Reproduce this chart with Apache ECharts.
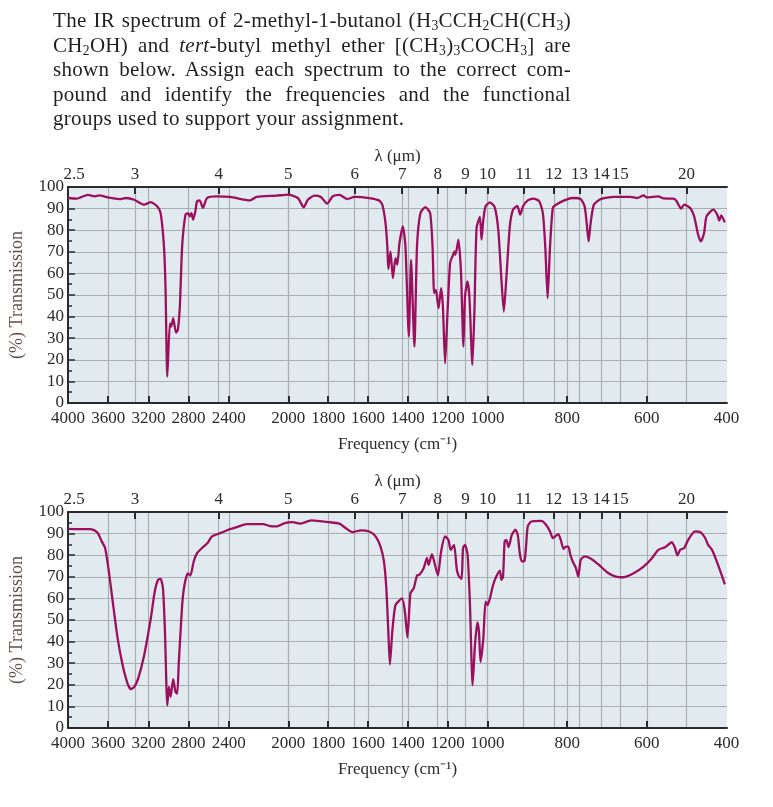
<!DOCTYPE html>
<html lang="en">
<head>
  <meta charset="UTF-8">
  <title>IR spectra</title>
  <script src="https://cdn.jsdelivr.net/npm/echarts@6.0.0/dist/echarts.min.js"></script>
  <style>
    body { margin: 0; background: #fff; }
    #para {
      position: absolute; left: 53px; top: 8px; width: 518px; z-index: 2;
      font-family: 'Liberation Serif', serif; font-size: 21px; letter-spacing: 0.3px;
      line-height: 24.5px; color: #231f20;
    }
    #para .ln { text-align: justify; text-align-last: justify; white-space: nowrap; }
    #para .ln.last { text-align-last: left; }
    #para sub { font-size: 0.65em; vertical-align: baseline; position: relative; top: 0.25em; line-height: 0; }
  </style>
</head>
<body>
  <div id="para">
    <div class="ln">The IR spectrum of 2-methyl-1-butanol (H<sub>3</sub>CCH<sub>2</sub>CH(CH<sub>3</sub>)</div>
    <div class="ln">CH<sub>2</sub>OH) and <i>tert</i>-butyl methyl ether [(CH<sub>3</sub>)<sub>3</sub>COCH<sub>3</sub>] are</div>
    <div class="ln">shown below. Assign each spectrum to the correct com-</div>
    <div class="ln">pound and identify the frequencies and the functional</div>
    <div class="ln last">groups used to support your assignment.</div>
  </div>
  <div id="main" style="width: 773px; height: 807px;"></div>
  <script>
    // tick labels
    var freqTicks = [4000, 3600, 3200, 2800, 2400, 2000, 1800, 1600, 1400, 1200, 1000, 800, 600, 400]
    var waveTicks = [2.5, 3, 4, 5, 6, 7, 8, 9, 10, 11, 12, 13, 14, 15, 20]

    // top spectrum
    var freqTop = [4000, 3917, 3802, 3736, 3687, 3605, 3489, 3423, 3341, 3242,
      3176, 3111, 3078, 3045, 3029, 3012, 2986, 2973, 2953, 2926,
      2907, 2887, 2864, 2831, 2805, 2788, 2772, 2755, 2733, 2716,
      2690, 2657, 2617, 2519, 2391, 2257, 2213, 2080, 2002, 1952,
      1923, 1902, 1869, 1836, 1806, 1777, 1744, 1703, 1669, 1594,
      1545, 1528, 1512, 1503, 1498, 1487, 1475, 1462, 1453, 1442,
      1425, 1412, 1395, 1384, 1367, 1354, 1337, 1312, 1288, 1276,
      1268, 1259, 1246, 1233, 1224, 1213, 1201, 1188, 1176, 1166,
      1161, 1146, 1133, 1121, 1113, 1101, 1091, 1076, 1066, 1055,
      1038, 1030, 1021, 1010, 994, 982, 973, 965, 959, 953,
      944, 936, 925, 918, 911, 899, 884, 870, 861, 855,
      849, 843, 836, 828, 807, 786, 766, 756, 751, 746,
      741, 733, 716, 683, 641, 624, 608, 600, 571, 558,
      533, 525, 514, 506, 491, 481, 471, 464, 456, 450,
      433, 423, 418, 413, 404]
    var transTop = [94.9, 94.6, 96.4, 95.7, 96.1, 95.2, 94.4, 94.9, 94.1, 91.8,
      93.0, 91.0, 87.9, 72.5, 52.4, 12.2, 36.9, 35.4, 39.3, 32.6,
      33.8, 44.7, 72.5, 87.2, 87.9, 86.4, 87.9, 84.9, 88.7, 93.4,
      93.8, 90.3, 94.9, 95.7, 95.4, 93.8, 95.4, 96.0, 96.5, 94.9,
      90.6, 94.1, 96.0, 95.4, 92.3, 95.7, 96.4, 94.4, 95.4, 94.9,
      93.8, 91.8, 83.3, 72.5, 62.0, 70.2, 57.8, 67.1, 64.0, 74.0,
      81.8, 72.5, 30.8, 66.3, 26.1, 72.5, 87.9, 90.7, 87.9, 72.5,
      50.9, 52.4, 43.9, 53.2, 44.7, 18.4, 41.6, 64.8, 67.9, 70.2,
      68.6, 75.6, 60.1, 26.1, 49.3, 56.3, 49.3, 17.6, 41.6, 81.0,
      86.1, 75.6, 84.9, 91.0, 92.9, 90.7, 80.2, 57.0, 42.3, 57.0,
      81.8, 89.5, 91.3, 87.2, 91.0, 93.8, 94.6, 93.4, 87.9, 72.5,
      48.5, 72.5, 90.3, 91.8, 93.8, 94.9, 94.4, 91.0, 83.3, 74.8,
      83.3, 91.8, 94.4, 95.4, 95.4, 94.9, 96.1, 95.2, 95.7, 94.7,
      94.6, 93.4, 90.0, 91.8, 90.3, 86.4, 77.9, 74.8, 78.7, 86.4,
      89.5, 87.2, 84.4, 86.9, 83.6]

    // bottom spectrum
    var freqBottom = [4000, 3901, 3786, 3736, 3703, 3664, 3631, 3598, 3555, 3506,
      3456, 3407, 3374, 3341, 3302, 3242, 3176, 3137, 3104, 3078,
      3055, 3035, 3012, 2996, 2979, 2953, 2930, 2913, 2897, 2864,
      2841, 2808, 2782, 2749, 2716, 2651, 2611, 2568, 2486, 2404,
      2347, 2280, 2169, 2124, 2080, 2024, 1977, 1943, 1885, 1794,
      1744, 1711, 1678, 1636, 1594, 1562, 1537, 1520, 1508, 1498,
      1490, 1478, 1462, 1429, 1415, 1402, 1387, 1370, 1354, 1342,
      1320, 1304, 1296, 1279, 1266, 1249, 1233, 1213, 1196, 1185,
      1168, 1154, 1143, 1130, 1123, 1113, 1100, 1088, 1075, 1063,
      1051, 1043, 1035, 1021, 1010, 1000, 994, 986, 978, 969,
      965, 961, 957, 953, 947, 939, 930, 924, 919, 914,
      907, 903, 899, 890, 865, 853, 843, 836, 830, 822,
      816, 809, 803, 797, 792, 786, 778, 772, 766, 756,
      741, 720, 699, 678, 658, 633, 608, 587, 571, 554,
      537, 529, 523, 516, 506, 496, 479, 466, 454, 446,
      436, 429, 421, 412, 404]
    var transBottom = [92.2, 92.1, 92.1, 91.5, 90.2, 86.4, 83.3, 74.0, 58.5, 41.5,
      29.1, 20.6, 18.0, 19.0, 22.9, 33.7, 50.8, 63.1, 68.6, 69.0,
      64.7, 44.6, 10.5, 19.0, 14.4, 22.6, 16.7, 15.9, 30.6, 56.9,
      66.2, 71.6, 70.6, 77.1, 80.9, 84.0, 85.6, 88.7, 90.2, 91.8,
      93.0, 94.4, 94.4, 93.5, 93.3, 94.9, 95.3, 94.6, 96.1, 95.3,
      94.6, 92.5, 90.7, 91.5, 91.0, 88.7, 84.0, 77.1, 64.7, 44.6,
      29.4, 44.6, 56.9, 60.0, 54.0, 41.9, 62.4, 64.8, 70.6, 70.9,
      74.1, 78.8, 75.5, 80.5, 76.4, 70.6, 81.7, 88.7, 87.1, 82.5,
      84.8, 73.2, 70.1, 69.0, 83.3, 84.8, 80.2, 56.9, 19.8, 38.4,
      48.9, 44.6, 30.6, 41.5, 58.5, 56.9, 60.0, 66.2, 70.1, 72.9,
      68.6, 70.1, 86.4, 87.1, 83.7, 89.4, 91.8, 89.4, 80.9, 77.1,
      77.4, 84.8, 93.3, 95.6, 95.9, 94.1, 91.0, 87.9, 88.7, 89.8,
      87.1, 82.9, 84.0, 84.0, 80.2, 77.1, 74.0, 70.1, 77.8, 79.5,
      78.5, 75.5, 72.0, 70.1, 69.8, 71.6, 74.7, 78.6, 82.5, 83.7,
      86.0, 83.3, 79.9, 82.5, 83.3, 87.1, 91.0, 90.7, 88.2, 84.8,
      82.5, 79.4, 75.5, 70.9, 66.5]

    // the chart's frequency scale is piecewise linear (it changes at 2400, 2000 and 1000)
    var scaleFreq = [4000, 2400, 2000, 1000, 400]
    var scalePos = [0, 162, 222, 422.7, 663.4]
    function toPos(f) {
      for (var i = 0; i < scaleFreq.length - 1; i++) {
        if (f >= scaleFreq[i + 1]) {
          var t = (scaleFreq[i] - f) / (scaleFreq[i] - scaleFreq[i + 1])
          return scalePos[i] + t * (scalePos[i + 1] - scalePos[i])
        }
      }
      return scalePos[scalePos.length - 1]
    }
    var freqPos = freqTicks.map(toPos)
    var wavePos = waveTicks.map(function (w) { return toPos(10000 / w) })
    var gridPos = freqPos.slice(1, -1).concat(wavePos.slice(1))

    function nearest(arr, v) {
      var best = 0
      for (var i = 1; i < arr.length; i++) {
        if (Math.abs(arr[i] - v) < Math.abs(arr[best] - v)) best = i
      }
      return best
    }

    var serif = 'Liberation Serif'
    var dark = '#2b2b2b'
    var lineColor = '#9c0f5f'

    function makeGrid(top) {
      return { left: 63, width: 664, top: top, height: 216, show: true,
        backgroundColor: '#e1ebef', borderWidth: 0 }
    }
    function makeXAxes(g) {
      return [
        { // vertical grid lines
          type: 'value', gridIndex: g, min: 0, max: 664, position: 'bottom',
          axisLine: { show: false }, axisLabel: { show: false },
          axisTick: { show: false, customValues: gridPos },
          splitLine: { show: true, lineStyle: { color: '#a9aeb1', width: 1.2 } }
        },
        { // frequency
          type: 'value', gridIndex: g, min: 0, max: 664, position: 'bottom',
          name: 'Frequency (cm⁻¹)', nameLocation: 'middle', nameGap: 33,
          nameTextStyle: { fontFamily: serif, fontSize: 17, color: dark },
          axisLine: { show: true, lineStyle: { color: dark, width: 2 } },
          axisTick: { show: true, inside: true, length: 7, lineStyle: { color: dark, width: 2 },
            customValues: freqPos.slice(1, -1) },
          axisLabel: { customValues: freqPos, fontFamily: serif, fontSize: 17, color: dark, margin: 7,
            formatter: function (v) { return String(freqTicks[nearest(freqPos, v)]) } },
          splitLine: { show: false }
        },
        { // wavelength
          type: 'value', gridIndex: g, min: 0, max: 664, position: 'top',
          name: 'λ (μm)', nameLocation: 'middle', nameGap: 21,
          nameTextStyle: { fontFamily: serif, fontSize: 17, color: dark },
          axisLine: { show: true, lineStyle: { color: dark, width: 2 } },
          axisTick: { show: true, inside: true, length: 7, lineStyle: { color: dark, width: 2 },
            customValues: wavePos.slice(1) },
          axisLabel: { customValues: wavePos, fontFamily: serif, fontSize: 17, color: dark, margin: 4,
            formatter: function (v) {
              var w = waveTicks[nearest(wavePos, v)]
              return w === 2.5 ? '{first|2.5}' : String(w)
            },
            rich: { first: { fontFamily: serif, fontSize: 17, color: dark, padding: [0, 0, 0, 12] } } },
          splitLine: { show: false }
        }
      ]
    }
    function makeYAxis(g) {
      return {
        type: 'value', gridIndex: g, min: 0, max: 100, interval: 10,
        name: '(%) Transmission', nameLocation: 'middle', nameGap: 42, nameRotate: 90,
        nameTextStyle: { fontFamily: serif, fontSize: 18, color: '#5e514d' },
        axisLine: { show: true, lineStyle: { color: dark, width: 2 } },
        axisTick: { show: true, inside: true, length: 7, lineStyle: { color: dark, width: 1.5 } },
        minorTick: { show: true, splitNumber: 2, length: 4, lineStyle: { color: dark, width: 1.5 } },
        axisLabel: { fontFamily: serif, fontSize: 17, color: dark, margin: 4 },
        splitLine: { show: true, lineStyle: { color: '#a9aeb1', width: 1.2 } }
      }
    }
    function makeSeries(g, freq, trans) {
      return {
        type: 'line', xAxisIndex: g * 3 + 1, yAxisIndex: g,
        data: freq.map(function (f, i) { return [toPos(f), trans[i]] }),
        showSymbol: false, smooth: 0.2, z: 5,
        lineStyle: { color: lineColor, width: 2.3 }
      }
    }

    var mCharts = echarts.init(document.querySelector('#main'))
    var option = {
      animation: false,
      grid: [makeGrid(187), makeGrid(512)],
      xAxis: makeXAxes(0).concat(makeXAxes(1)),
      yAxis: [makeYAxis(0), makeYAxis(1)],
      series: [makeSeries(0, freqTop, transTop), makeSeries(1, freqBottom, transBottom)]
    }
    mCharts.setOption(option)
  </script>
</body>
</html>
